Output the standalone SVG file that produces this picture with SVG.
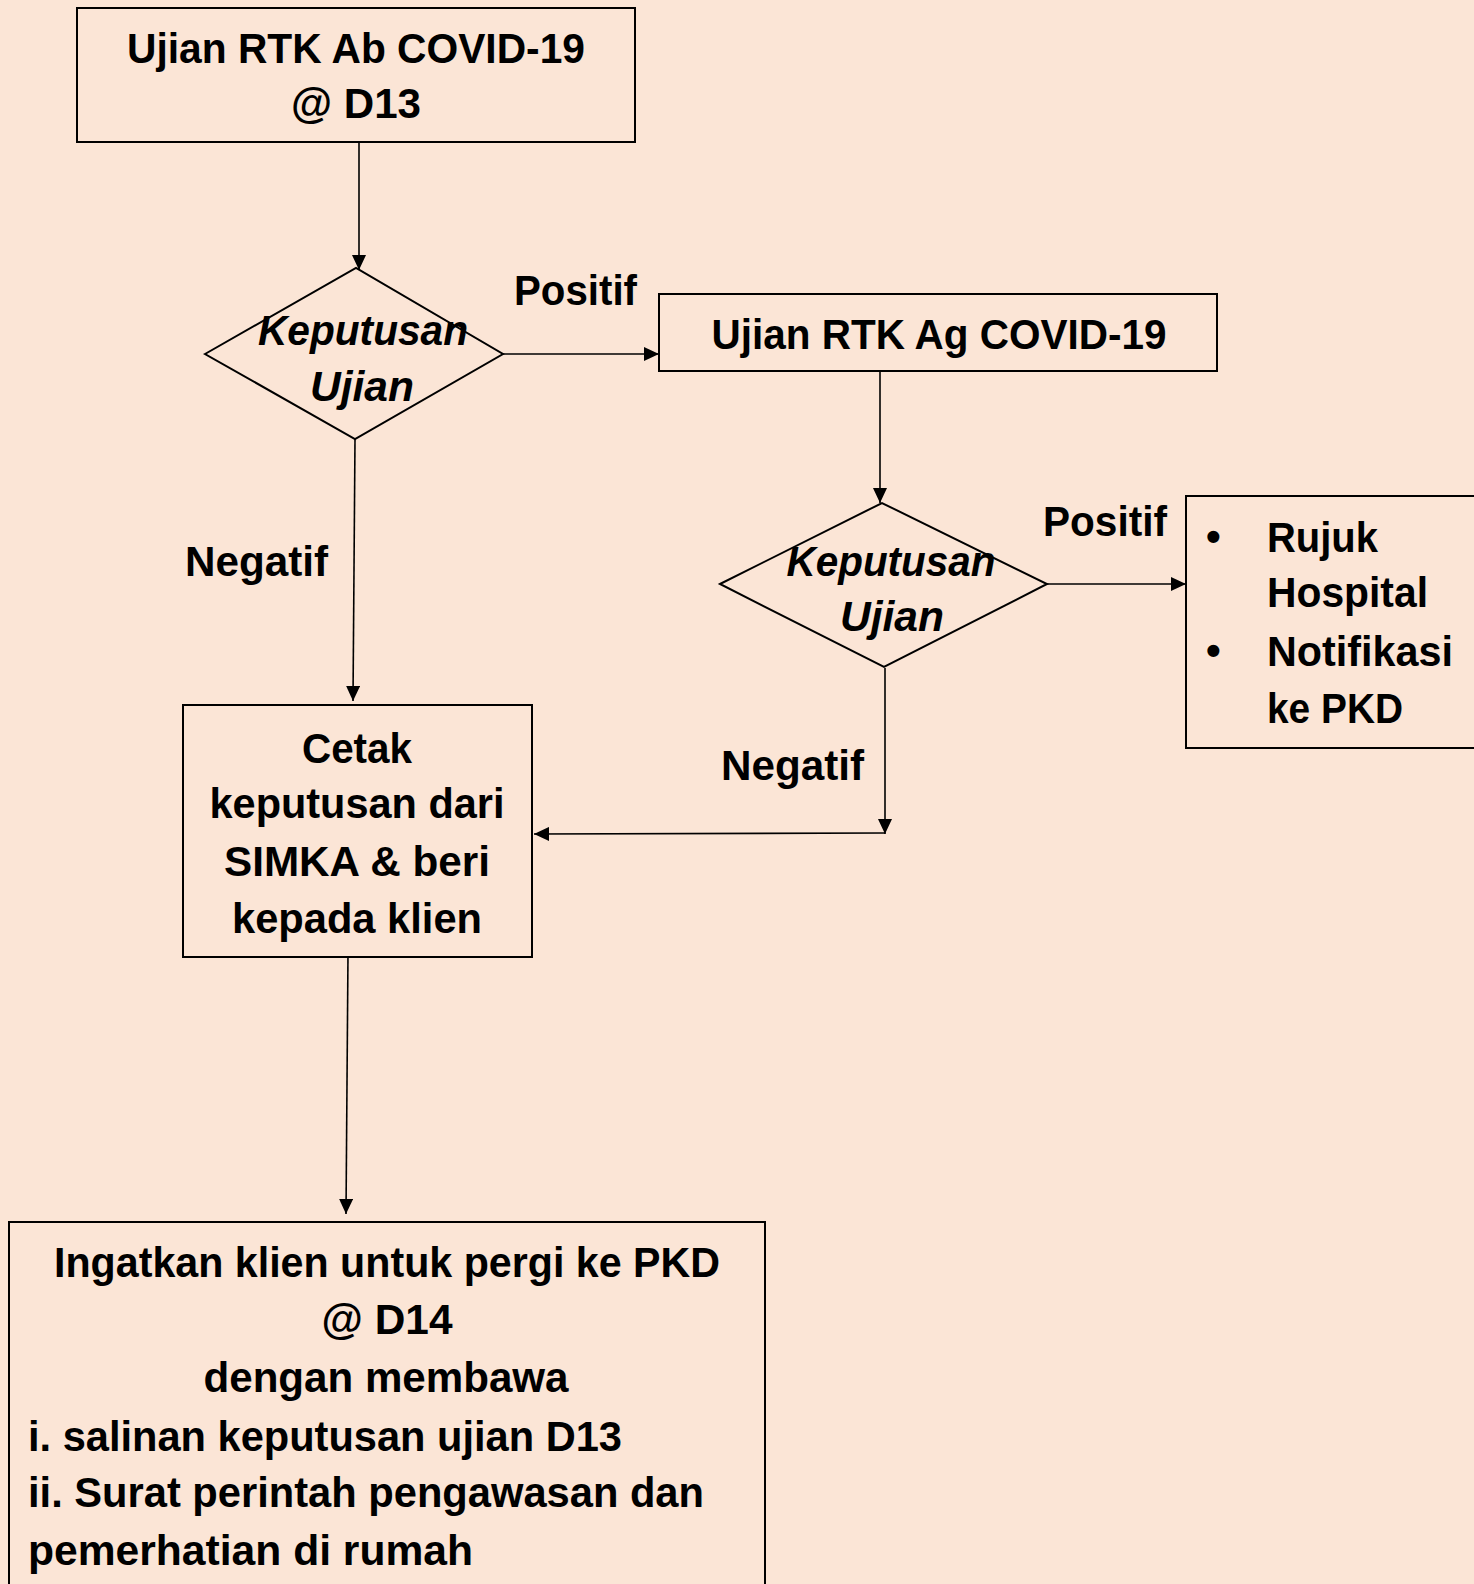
<svg xmlns="http://www.w3.org/2000/svg" width="1474" height="1584" viewBox="0 0 1474 1584">
<style>
  .bg { fill: #FBE5D6; }
  .box { fill: #FBE5D6; stroke: #000; stroke-width: 2; }
  .t { font-family: "Liberation Sans", Arial, sans-serif; font-weight: bold; font-size: 42px; fill: #000; }
  .c { text-anchor: middle; }
  .i { font-style: italic; }
  .conn { stroke: #000; stroke-width: 1.6; fill: none; marker-end: url(#arr); }
</style>
<defs>
  <marker id="arr" markerUnits="userSpaceOnUse" markerWidth="16" markerHeight="14" refX="15" refY="7" orient="auto">
    <path d="M0,0 L15,7 L0,14 z" fill="#000"/>
  </marker>
</defs>
<rect class="bg" x="0" y="0" width="1474" height="1584"/>

<g id="connectors">
  <line class="conn" x1="359" y1="136" x2="359" y2="270"/>
  <line class="conn" x1="503" y1="354" x2="659" y2="354"/>
  <line class="conn" x1="880" y1="366" x2="880" y2="503"/>
  <line class="conn" x1="1042" y1="584" x2="1186" y2="584"/>
  <line class="conn" x1="355" y1="439" x2="353" y2="701"/>
  <line class="conn" x1="885" y1="668" x2="885" y2="834"/>
  <line class="conn" x1="885" y1="833" x2="534" y2="834"/>
  <line class="conn" x1="348" y1="953" x2="346" y2="1214"/>
</g>

<g id="labels">
  <text class="t" x="514" y="305" textLength="123" lengthAdjust="spacingAndGlyphs">Positif</text>
  <text class="t" x="1043" y="536" textLength="124" lengthAdjust="spacingAndGlyphs">Positif</text>
  <text class="t" x="185" y="576" textLength="143" lengthAdjust="spacingAndGlyphs">Negatif</text>
  <text class="t" x="721" y="780" textLength="143" lengthAdjust="spacingAndGlyphs">Negatif</text>
</g>

<g id="node-ab">
  <rect class="box" x="77" y="8" width="558" height="134"/>
  <text class="t c" x="356" y="63" textLength="458" lengthAdjust="spacingAndGlyphs">Ujian RTK Ab COVID-19</text>
  <text class="t c" x="356" y="118" textLength="130" lengthAdjust="spacingAndGlyphs">@ D13</text>
</g>

<g id="decision-1">
  <polygon class="box" points="205,354 356,268 503,354 355,439"/>
  <text class="t c i" x="363" y="345" textLength="210" lengthAdjust="spacingAndGlyphs">Keputusan</text>
  <text class="t c i" x="362" y="401" textLength="104" lengthAdjust="spacingAndGlyphs">Ujian</text>
</g>

<g id="node-ag">
  <rect class="box" x="659" y="294" width="558" height="77"/>
  <text class="t c" x="939" y="349" textLength="455" lengthAdjust="spacingAndGlyphs">Ujian RTK Ag COVID-19</text>
</g>

<g id="decision-2">
  <polygon class="box" points="720,584 882,503 1047,584 884,667"/>
  <text class="t c i" x="891" y="576" textLength="209" lengthAdjust="spacingAndGlyphs">Keputusan</text>
  <text class="t c i" x="892" y="631" textLength="104" lengthAdjust="spacingAndGlyphs">Ujian</text>
</g>

<g id="node-rujuk">
  <rect class="box" x="1186" y="496" width="300" height="252"/>
  <text class="t" x="1206" y="551">•</text>
  <text class="t" x="1267" y="552" textLength="111" lengthAdjust="spacingAndGlyphs">Rujuk</text>
  <text class="t" x="1267" y="607" textLength="161" lengthAdjust="spacingAndGlyphs">Hospital</text>
  <text class="t" x="1206" y="665">•</text>
  <text class="t" x="1267" y="666" textLength="186" lengthAdjust="spacingAndGlyphs">Notifikasi</text>
  <text class="t" x="1267" y="723" textLength="136" lengthAdjust="spacingAndGlyphs">ke PKD</text>
</g>

<g id="node-cetak">
  <rect class="box" x="183" y="705" width="349" height="252"/>
  <text class="t c" x="357" y="763" textLength="110" lengthAdjust="spacingAndGlyphs">Cetak</text>
  <text class="t c" x="357" y="818" textLength="295" lengthAdjust="spacingAndGlyphs">keputusan dari</text>
  <text class="t c" x="357" y="876" textLength="266" lengthAdjust="spacingAndGlyphs">SIMKA &amp; beri</text>
  <text class="t c" x="357" y="933" textLength="250" lengthAdjust="spacingAndGlyphs">kepada klien</text>
</g>

<g id="node-ingatkan">
  <rect class="box" x="9" y="1222" width="756" height="380"/>
  <text class="t c" x="387" y="1277" textLength="666" lengthAdjust="spacingAndGlyphs">Ingatkan klien untuk pergi ke PKD</text>
  <text class="t c" x="387" y="1334" textLength="131" lengthAdjust="spacingAndGlyphs">@ D14</text>
  <text class="t c" x="386" y="1392" textLength="365" lengthAdjust="spacingAndGlyphs">dengan membawa</text>
  <text class="t" x="28" y="1451" textLength="594" lengthAdjust="spacingAndGlyphs">i. salinan keputusan ujian D13</text>
  <text class="t" x="28" y="1507" textLength="676" lengthAdjust="spacingAndGlyphs">ii. Surat perintah pengawasan dan</text>
  <text class="t" x="28" y="1565" textLength="445" lengthAdjust="spacingAndGlyphs">pemerhatian di rumah</text>
</g>
</svg>
